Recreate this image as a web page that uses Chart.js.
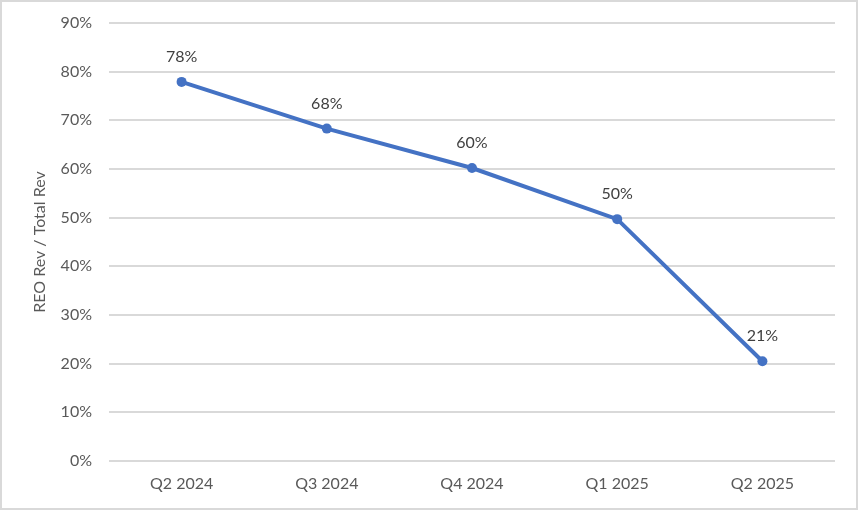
<!DOCTYPE html>
<html>
<head>
<meta charset="utf-8">
<script src="https://cdn.jsdelivr.net/npm/chart.js@4.4.1/dist/chart.umd.min.js"></script>
<style>
  html, body { margin: 0; padding: 0; background: #fff; }
  #wrap { width: 858px; height: 510px; position: relative; }
</style>
</head>
<body>
<div id="wrap"><canvas id="myChart" width="858" height="510"></canvas></div>
<script>
// chart data
var quarters = ['Q2 2024', 'Q3 2024', 'Q4 2024', 'Q1 2025', 'Q2 2025'];
var reoShare = [0.779, 0.683, 0.602, 0.497, 0.205];
var yTicks = [0, 0.1, 0.2, 0.3, 0.4, 0.5, 0.6, 0.7, 0.8, 0.9];

var FONT = "Lato, 'Open Sans', sans-serif";

// labels above each point, like excel data labels
var pointLabels = {
  id: 'pointLabels',
  afterDatasetsDraw: function(chart) {
    var ctx = chart.ctx;
    var meta = chart.getDatasetMeta(0);
    ctx.save();
    ctx.font = '16px ' + FONT;
    ctx.fillStyle = '#404040';
    ctx.textAlign = 'center';
    ctx.textBaseline = 'middle';
    meta.data.forEach(function(pt, i) {
      ctx.fillText(Math.round(reoShare[i] * 100) + '%', pt.x, pt.y - 25);
    });
    ctx.restore();
  }
};

// thin grey frame round the whole chart
var frame = {
  id: 'frame',
  afterDraw: function(chart) {
    var ctx = chart.ctx;
    ctx.save();
    ctx.strokeStyle = '#d9d9d9';
    ctx.lineWidth = 2;
    ctx.strokeRect(1, 1, chart.width - 2, chart.height - 2);
    ctx.restore();
  }
};

var ctx = document.getElementById('myChart');
var myChart = new Chart(ctx, {
  type: 'line',
  data: {
    labels: quarters,
    datasets: [{
      data: reoShare,
      borderColor: '#4472C4',
      backgroundColor: '#4472C4',
      borderWidth: 4,
      pointRadius: 5,
      pointHoverRadius: 5,
      pointBorderWidth: 0,
      tension: 0
    }]
  },
  options: {
    responsive: false,
    animation: false,
    layout: { padding: { top: 23, right: 23, left: 0, bottom: 0 } },
    plugins: {
      legend: { display: false },
      tooltip: { enabled: false }
    },
    scales: {
      x: {
        offset: true,
        grid: { display: false, drawTicks: false },
        border: { display: false },
        ticks: {
          color: '#595959',
          font: { family: FONT, size: 16 },
          padding: 13,
          maxRotation: 0
        },
        afterFit: function(scale) { scale.height = 49; }
      },
      y: {
        min: 0,
        max: 0.9,
        afterBuildTicks: function(scale) {
          scale.ticks = yTicks.map(function(v) { return { value: v }; });
        },
        grid: { color: '#d9d9d9', lineWidth: 2, drawTicks: false },
        border: { display: false },
        ticks: {
          color: '#595959',
          font: { family: FONT, size: 16 },
          padding: 17,
          callback: function(v) { return Math.round(v * 100) + '%'; }
        },
        title: {
          display: true,
          text: 'REO Rev / Total Rev',
          color: '#595959',
          font: { family: FONT, size: 16 },
          padding: { top: 30, bottom: 0 }
        },
        afterFit: function(scale) {
          scale.width = 109;
          scale.paddingTop = 0;
        }
      }
    }
  },
  plugins: [pointLabels, frame]
});
</script>
</body>
</html>
